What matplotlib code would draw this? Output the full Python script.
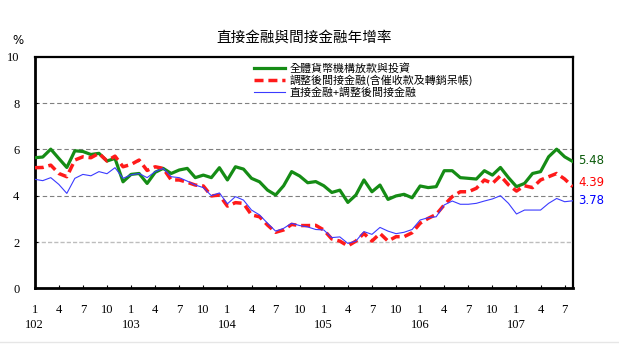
import matplotlib
matplotlib.use("Agg")
import matplotlib.pyplot as plt
from matplotlib.lines import Line2D

# Monthly growth rates (%), 102/1 .. 107/8 (ROC calendar)
start_year = 102
n_months = 68

bank_loans = [5.64, 5.67, 6.01, 5.61, 5.22, 5.94, 5.91, 5.78, 5.83, 5.50, 5.61, 4.60,
              4.92, 4.96, 4.53, 5.01, 5.18, 4.96, 5.11, 5.18, 4.78, 4.89, 4.78, 5.21,
              4.68, 5.25, 5.15, 4.75, 4.60, 4.24, 4.03, 4.43, 5.04, 4.85, 4.56, 4.61,
              4.43, 4.14, 4.24, 3.71, 4.03, 4.68, 4.17, 4.46, 3.84, 3.99, 4.06, 3.91,
              4.42, 4.35, 4.39, 5.08, 5.08, 4.78, 4.75, 4.72, 5.08, 4.89, 5.22, 4.78,
              4.39, 4.53, 4.96, 5.04, 5.68, 6.01, 5.68, 5.48]

indirect_adj = [5.21, 5.22, 5.32, 4.96, 4.82, 5.54, 5.68, 5.64, 5.83, 5.50, 5.71, 5.25,
                5.35, 5.54, 5.09, 5.25, 5.18, 4.68, 4.68, 4.58, 4.46, 4.42, 3.99, 4.03,
                3.55, 3.70, 3.67, 3.17, 3.09, 2.73, 2.42, 2.52, 2.76, 2.71, 2.71, 2.72,
                2.52, 2.13, 2.04, 1.83, 2.04, 2.37, 2.04, 2.37, 2.04, 2.23, 2.23, 2.40,
                2.81, 3.02, 3.19, 3.60, 3.96, 4.17, 4.17, 4.32, 4.68, 4.53, 4.86, 4.47,
                4.20, 4.43, 4.35, 4.68, 4.82, 4.96, 4.72, 4.39]

direct_plus_indirect = [4.71, 4.65, 4.78, 4.49, 4.10, 4.75, 4.92, 4.86, 5.04, 4.95, 5.21, 4.75,
                        4.90, 4.96, 4.78, 5.04, 5.18, 4.82, 4.78, 4.63, 4.46, 4.35, 4.00, 4.12,
                        3.65, 3.96, 3.81, 3.38, 3.17, 2.81, 2.47, 2.59, 2.81, 2.71, 2.65, 2.54,
                        2.52, 2.19, 2.22, 1.94, 2.04, 2.45, 2.33, 2.63, 2.47, 2.36, 2.42, 2.54,
                        2.95, 3.05, 3.09, 3.60, 3.77, 3.63, 3.63, 3.67, 3.77, 3.86, 4.00, 3.67,
                        3.21, 3.38, 3.38, 3.38, 3.67, 3.88, 3.74, 3.78]

series_labels = ["全體貨幣機構放款與投資",
                 "調整後間接金融(含催收款及轉銷呆帳)",
                 "直接金融+調整後間接金融"]
end_labels = ["5.48", "4.39", "3.78"]
title_text = "直接金融與間接金融年增率"

cjk = ["Noto Sans CJK TC", "DejaVu Sans"]
num_font = "Liberation Serif"

W, H = 619, 346
fig = plt.figure(figsize=(W / 100, H / 100), dpi=100)
fig.patch.set_facecolor("white")

left, right = 34.7, 572.7
top, bottom = 56.8, 288.3
ax = fig.add_axes([left / W, 1 - bottom / H, (right - left) / W, (bottom - top) / H])

x = list(range(n_months))
green = "#158c15"
red = "#ff1a1a"
blue = "#3b3bff"
red_dash = (0, (2.6, 1.4))

# gridlines
for g in [4, 6, 8]:
    ax.axhline(g, color="#808080", lw=0.8, ls=(0, (4, 2.5)), zorder=1)
ax.axhline(2, color="#bdbdbd", lw=1.0, ls=(0, (3, 1.5)), zorder=1)

ax.plot(x, bank_loans, color=green, lw=2.3, zorder=3, solid_joinstyle="round")
ax.plot(x, indirect_adj, color=red, lw=2.5, ls=red_dash, zorder=4)
ax.plot(x, direct_plus_indirect, color=blue, lw=0.8, zorder=5)

ax.set_xlim(0, n_months - 1)
ax.set_ylim(0, 10)

# x ticks every quarter, year under January
ticks = list(range(0, n_months, 3))
tick_labels = []
for i in ticks:
    m = i % 12 + 1
    lab = str(m)
    if m == 1:
        lab += "\n" + str(start_year + i // 12)
    tick_labels.append(lab)
ax.set_xticks(ticks)
ax.set_xticklabels(tick_labels, fontfamily=num_font, fontsize=9, linespacing=1.4, va="top")
ax.tick_params(axis="x", direction="in", length=2.5, width=0.8, pad=11)

ax.set_yticks([0, 2, 4, 6, 8, 10])
ax.set_yticklabels(["0", "2", "4", "6", "8", "10"], fontfamily=num_font, fontsize=9)
ax.tick_params(axis="y", direction="in", length=2.5, width=0.8, pad=11)

for s in ["left", "right", "top", "bottom"]:
    ax.spines[s].set_color("black")
ax.spines["left"].set_linewidth(2.0)
ax.spines["right"].set_linewidth(1.6)
ax.spines["bottom"].set_linewidth(2.0)
ax.spines["top"].set_linewidth(1.6)

# legend
handles = [Line2D([], [], color=green, lw=2.3),
           Line2D([], [], color=red, lw=2.5, ls=red_dash),
           Line2D([], [], color=blue, lw=0.8)]
leg = ax.legend(handles, series_labels, loc="upper left",
                bbox_to_anchor=((254 - left) / (right - left), (bottom - 63.5) / (bottom - top)),
                frameon=False, prop={"family": cjk, "size": 7.9},
                handlelength=2.8, handletextpad=0.45, labelspacing=0.05, borderpad=0,
                borderaxespad=0)

# end-of-series values
offsets = [1, 3, 0]
for lab, dy, col in zip(end_labels, offsets, ["#0a5a0a", "#ff0000", "#0000ff"]):
    ax.annotate(lab, xy=(n_months - 1, float(lab)), xytext=(4, dy), textcoords="offset points",
                va="center", ha="left", color=col, fontfamily="DejaVu Sans", fontsize=8.5,
                annotation_clip=False)

fig.text(left / W + (right - left) / 2 / W, 1 - 37.5 / H, title_text, ha="center", va="center",
         fontfamily=cjk, fontsize=10.5)
fig.text(18 / W, 1 - 41 / H, "%", ha="center", va="center", fontfamily="DejaVu Sans", fontsize=8.5)

# thin separator at the bottom of the canvas
fig.add_artist(Line2D([0, 1], [1 - 342 / H, 1 - 342 / H], transform=fig.transFigure,
                      color="#e6e6e6", lw=1))

fig.savefig("out.png", dpi=100)
